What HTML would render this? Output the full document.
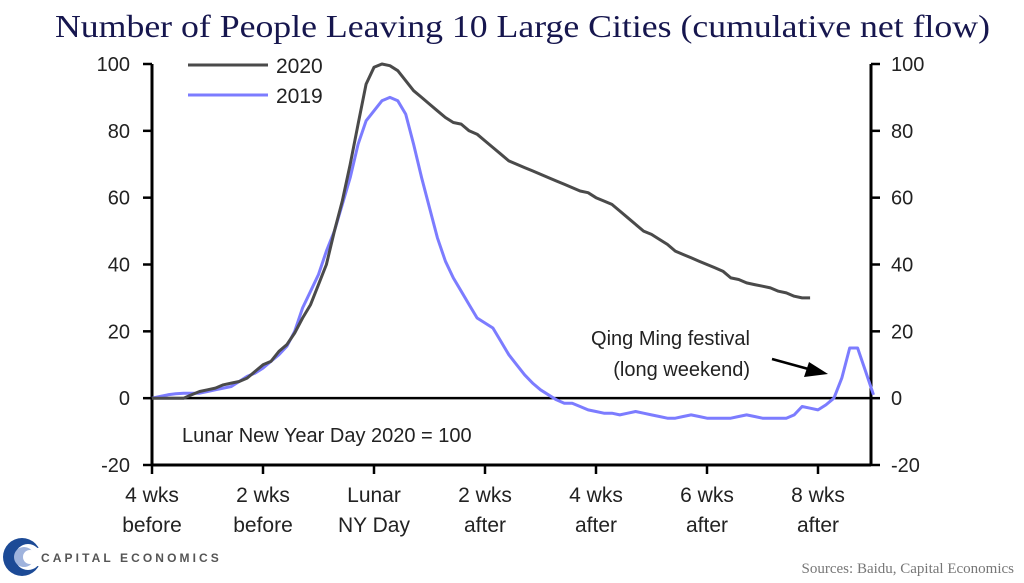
<!DOCTYPE html>
<html><head><meta charset="utf-8"><style>
html,body{margin:0;padding:0;background:#fff;width:1024px;height:583px;overflow:hidden}
svg text{font-family:"Liberation Sans",sans-serif}
</style></head><body>
<svg id="chart" width="1024" height="583" viewBox="0 0 1024 583">
<text x="55" y="37" font-size="32" fill="#16164e" textLength="935" lengthAdjust="spacingAndGlyphs" style="font-family:'Liberation Serif',serif">Number of People Leaving 10 Large Cities (cumulative net flow)</text>
<g id="axes"></g>
<g id="series"></g>
<g>
<line x1="188" y1="65" x2="268" y2="65" stroke="#4a4a4a" stroke-width="3"/>
<text x="276" y="73" font-size="21" fill="#222">2020</text>
<line x1="188" y1="95" x2="268" y2="95" stroke="#7c7cff" stroke-width="3"/>
<text x="276" y="103" font-size="21" fill="#222">2019</text>
</g>
<text x="182" y="442" font-size="20" fill="#222">Lunar New Year Day 2020 = 100</text>
<text x="750" y="345" text-anchor="end" font-size="20" fill="#222">Qing Ming festival</text>
<text x="750" y="376" text-anchor="end" font-size="20" fill="#222">(long weekend)</text>
<g>
<line x1="772" y1="359" x2="812" y2="370" stroke="#000" stroke-width="2.5"/>
<polygon points="828,374 804,377 809,362" fill="#000"/>
</g>
<g>
<circle cx="22" cy="557" r="19" fill="#1c4a96"/>
<circle cx="28" cy="557" r="13" fill="#fff"/>
<circle cx="24" cy="557" r="10" fill="#9fb3dd"/>
<circle cx="30" cy="557" r="7" fill="#fff"/>
<rect x="34" y="548" width="10" height="18" fill="#fff"/>
<text x="41" y="562" font-size="12" fill="#555" letter-spacing="3.2" font-weight="bold" textLength="181">CAPITAL ECONOMICS</text>
</g>
<text x="1014" y="573" text-anchor="end" font-size="15" fill="#777" style="font-family:'Liberation Serif',serif">Sources: Baidu, Capital Economics</text>
</svg>
<script>
const days = [];
for (let d = -28; d <= 63; d++) days.push(d);
const values2020 = [0,0,0,0,0,1,2,2.5,3,4,4.5,5,6,8,10,11,14,16,19.5,24,28,34,40,50,59,70,82,94,99,100,99.5,98,95,92,90,88,86,84,82.5,82,80,79,77,75,73,71,70,69,68,67,66,65,64,63,62,61.5,60,59,58,56,54,52,50,49,47.5,46,44,43,42,41,40,39,38,36,35.5,34.5,34,33.5,33,32,31.5,30.5,30,30];
const values2019 = [0,0.5,1,1.3,1.5,1.5,1.5,2,2.5,3,3.5,5,6.5,7.5,9,11,13,15.5,20,27,32,37,44,50,58,66,76,83,86,89,90,89,85,76,66,57,48,41,36,32,28,24,22.5,21,17,13,10,7,4.5,2.5,1,-0.5,-1.5,-1.5,-2.5,-3.5,-4,-4.5,-4.5,-5,-4.5,-4,-4.5,-5,-5.5,-6,-6,-5.5,-5,-5.5,-6,-6,-6,-6,-5.5,-5,-5.5,-6,-6,-6,-6,-5,-2.5,-3,-3.5,-2,0,6,15,15,8,1];
const yTicks = [-20,0,20,40,60,80,100];
const xTickDays = [-28,-14,0,14,28,42,56];
const xTickLabels = [["4 wks","before"],["2 wks","before"],["Lunar","NY Day"],["2 wks","after"],["4 wks","after"],["6 wks","after"],["8 wks","after"]];

const X0=152, X1=871, Y0=465, Y1=64;
const xs = d => X0 + (d + 28) * (444/56);
const ys = v => Y0 - (v + 20) * (Y0 - Y1) / 120;
const NS = "http://www.w3.org/2000/svg";
function mk(tag, attrs, parent){const e=document.createElementNS(NS,tag);for(const k in attrs)e.setAttribute(k,attrs[k]);parent.appendChild(e);return e;}
const axes = document.getElementById('axes');
const series = document.getElementById('series');

let e;
e = mk('line',{x1:X0,y1:Y1,x2:X0,y2:Y0,stroke:'#000','stroke-width':3},axes);


e = mk('line',{x1:X1,y1:Y1,x2:X1,y2:Y0,stroke:'#000','stroke-width':3},axes);


e = mk('line',{x1:X0,y1:Y0,x2:X1,y2:Y0,stroke:'#000','stroke-width':3},axes);


e = mk('line',{x1:X0,y1:ys(0),x2:X1,y2:ys(0),stroke:'#000','stroke-width':2.5},axes);



yTicks.forEach(v=>{
  const y = ys(v);
  e = mk('line',{x1:X0-9,y1:y,x2:X0,y2:y,stroke:'#000','stroke-width':2.5},axes);
  
  
  e = mk('line',{x1:X1,y1:y,x2:X1+9,y2:y,stroke:'#000','stroke-width':2.5},axes);
  
  
  e = mk('text',{x:X0-22,y:y+7,'text-anchor':'end','font-size':20,fill:'#222'},axes);
  e.textContent = v;
  
  
  e = mk('text',{x:X1+20,y:y+7,'text-anchor':'start','font-size':20,fill:'#222'},axes);
  e.textContent = v;
  
  
});
xTickDays.forEach((d,i)=>{
  const x = xs(d);
  e = mk('line',{x1:x,y1:Y0,x2:x,y2:Y0+9,stroke:'#000','stroke-width':2.5},axes);
  
  
  xTickLabels[i].forEach((s,j)=>{
    e = mk('text',{x:x,y:502+j*30,'text-anchor':'middle','font-size':21,fill:'#222'},axes);
    e.textContent = s;
    
    
  });
});

function path(vals){return vals.map((v,i)=>(i?'L':'M')+xs(days[i]).toFixed(1)+','+ys(v).toFixed(1)).join(' ');}
e = mk('path',{d:path(values2019),fill:'none',stroke:'#7c7cff','stroke-width':3,'stroke-linejoin':'round'},series);


e = mk('path',{d:path(values2020),fill:'none',stroke:'#4a4a4a','stroke-width':3,'stroke-linejoin':'round'},series);


</script>
</body></html>
